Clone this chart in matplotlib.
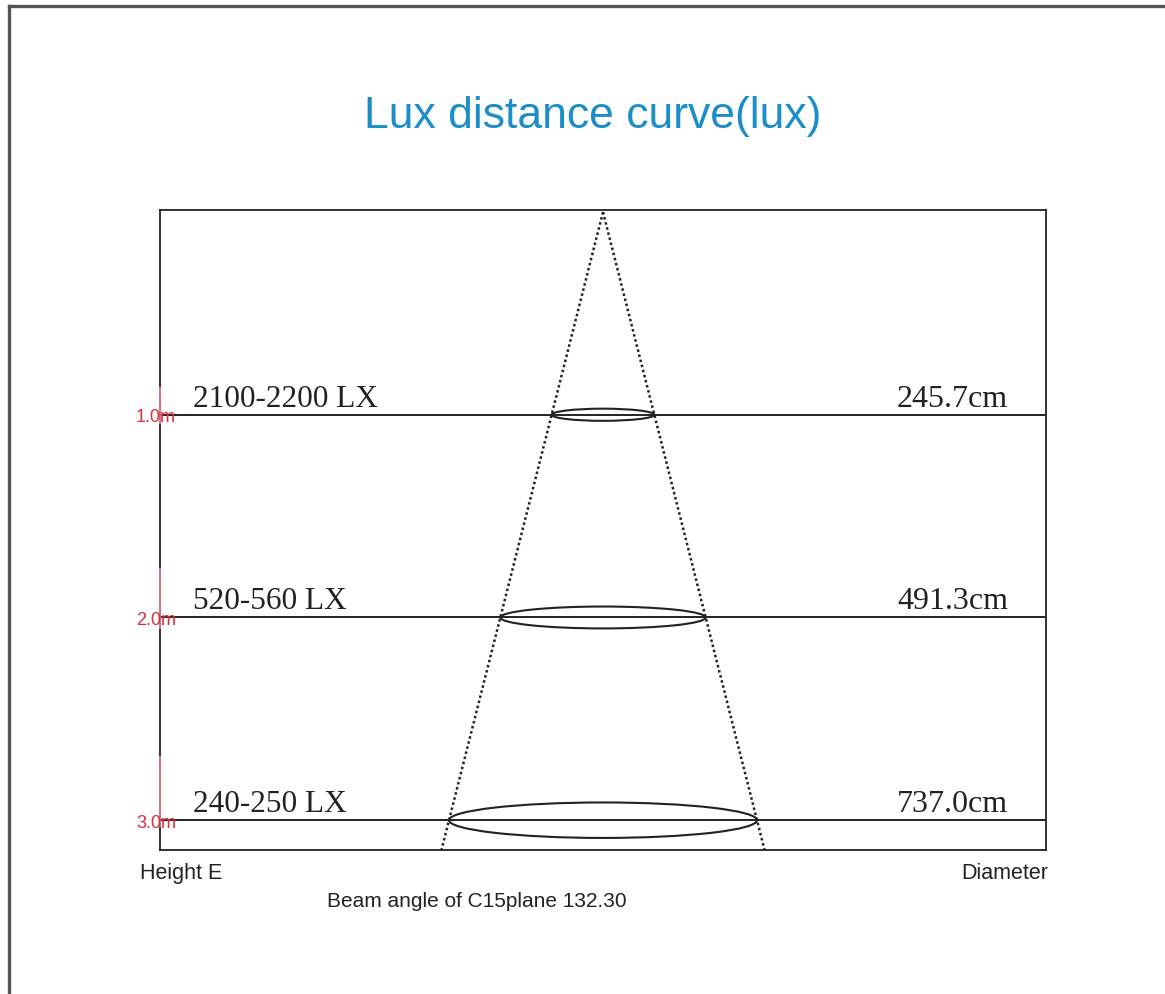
import matplotlib
matplotlib.use("Agg")
import matplotlib.pyplot as plt
from matplotlib.patches import Ellipse
from matplotlib.lines import Line2D
import numpy as np

# ---- data ----
heights_m = [1.0, 2.0, 3.0]
height_labels = ["1.0m", "2.0m", "3.0m"]
lux_labels = ["2100-2200 LX", "520-560 LX", "240-250 LX"]
diameters_cm = [245.7, 491.3, 737.0]
diameter_labels = ["245.7cm", "491.3cm", "737.0cm"]
ellipse_depth_m = [0.060, 0.108, 0.175]
red_marks = [(0.87, 1.04), (1.76, 2.05), (2.69, 3.03)]
title = "Lux distance curve(lux)"
beam_text = "Beam angle of C15plane 132.30"

W, H = 1165, 995
fig = plt.figure(figsize=(W / 100, H / 100), dpi=100)
fig.patch.set_facecolor("white")

# outer border (left and top visible)
fig.add_artist(Line2D([9 / W, 9 / W], [0, 1 - 7 / H], transform=fig.transFigure,
                      color="#555555", lw=2.4))
fig.add_artist(Line2D([9 / W, 1], [1 - 7 / H, 1 - 7 / H], transform=fig.transFigure,
                      color="#555555", lw=2.4))

ax = fig.add_axes([160 / W, 1 - 851 / H, (1046 - 160) / W, (851 - 211) / H])
xmax = 1060
ax.set_xlim(-xmax, xmax)
ytop, ybot = -0.01, 3.147
ax.set_ylim(ybot, ytop)
ax.set_xticks([])
ax.set_yticks([])
for s in ax.spines.values():
    s.set_linewidth(1.3)
    s.set_color("#222222")

# cone (dotted edges) from apex at height 0
slope = diameters_cm[-1] / 2 / heights_m[-1]
for sgn in (-1, 1):
    ax.plot([0, sgn * slope * ybot], [0, ybot], color="#222222", lw=1.8,
            linestyle=(0, (1.0, 1.1)), clip_on=True, zorder=3)

serif = "Liberation Serif"
for h, hl, ll, d, dl, ed, (r0, r1) in zip(heights_m, height_labels, lux_labels,
                                          diameters_cm, diameter_labels,
                                          ellipse_depth_m, red_marks):
    ax.axhline(h, color="#111111", lw=1.3, zorder=2)
    ax.add_patch(Ellipse((0, h), d, ed, fill=False, edgecolor="#222222",
                         lw=1.5, zorder=4))
    ax.text(0.0372, h - 0.045, ll, transform=ax.get_yaxis_transform(),
            fontsize=22.5, family=serif, color="#222222", va="baseline", ha="left")
    ax.text(0.957, h - 0.045, dl, transform=ax.get_yaxis_transform(),
            fontsize=23, family=serif, color="#222222", va="baseline", ha="right")
    ax.plot([0, 0], [r0, r1], transform=ax.get_yaxis_transform(),
            color="#e87a86", lw=1.3, clip_on=False, zorder=5)
    ax.text(0.018, h + 0.01, hl, transform=ax.get_yaxis_transform(),
            fontsize=13, family="Liberation Sans", color="#d8303a",
            va="center", ha="right", zorder=6)

fig.text(592.5 / W, 1 - 128 / H, title, fontsize=32, family="Liberation Sans",
         color="#1b8dc8", ha="center", va="baseline")
fig.text(140 / W, 1 - 879 / H, "Height E", fontsize=15.5, family="Liberation Sans",
         color="#222222", ha="left", va="baseline")
fig.text(1048 / W, 1 - 879 / H, "Diameter", fontsize=15.5, family="Liberation Sans",
         color="#222222", ha="right", va="baseline")
fig.text(327 / W, 1 - 907 / H, beam_text, fontsize=15, family="Liberation Sans",
         color="#222222", ha="left", va="baseline")

fig.savefig("out.png", dpi=100)
